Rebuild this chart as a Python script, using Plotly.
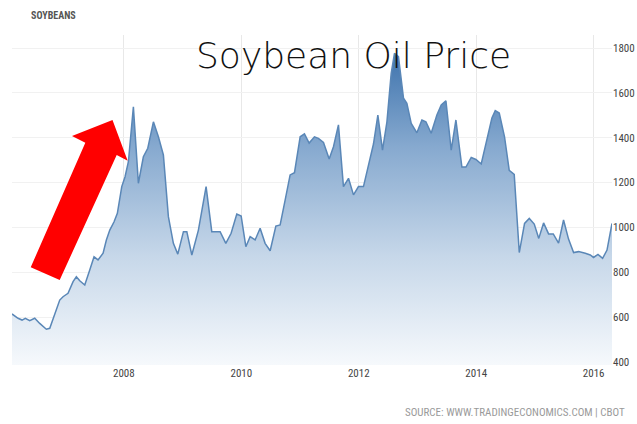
import plotly.graph_objects as go

# ---- data ----
years = [2006.095, 2006.198, 2006.266, 2006.322, 2006.397, 2006.482, 2006.567, 2006.680, 2006.738, 2006.823,
         2006.908, 2006.964, 2007.049, 2007.135, 2007.191, 2007.249, 2007.334, 2007.419, 2007.492, 2007.560,
         2007.646, 2007.702, 2007.760, 2007.833, 2007.889, 2007.964, 2008.020, 2008.077, 2008.162, 2008.247,
         2008.332, 2008.407, 2008.503, 2008.588, 2008.673, 2008.758, 2008.843, 2008.918, 2009.014, 2009.072,
         2009.157, 2009.269, 2009.400, 2009.497, 2009.639, 2009.736, 2009.826, 2009.923, 2009.997, 2010.077,
         2010.150, 2010.235, 2010.320, 2010.405, 2010.491, 2010.588, 2010.661, 2010.746, 2010.831, 2010.905,
         2011.002, 2011.075, 2011.155, 2011.245, 2011.313, 2011.399, 2011.496, 2011.569, 2011.654, 2011.739,
         2011.825, 2011.910, 2011.995, 2012.080, 2012.165, 2012.250, 2012.325, 2012.404, 2012.479, 2012.552,
         2012.608, 2012.676, 2012.762, 2012.819, 2012.893, 2012.990, 2013.075, 2013.143, 2013.233, 2013.330,
         2013.404, 2013.484, 2013.574, 2013.654, 2013.756, 2013.825, 2013.915, 2013.995, 2014.085, 2014.182,
         2014.267, 2014.324, 2014.392, 2014.482, 2014.562, 2014.647, 2014.733, 2014.823, 2014.903, 2014.988,
         2015.065, 2015.147, 2015.232, 2015.312, 2015.402, 2015.487, 2015.572, 2015.658, 2015.743, 2015.857,
         2015.942, 2015.998, 2016.073, 2016.152, 2016.227, 2016.312]
prices = [614, 595, 587, 595, 584, 595, 572, 546, 550, 618,
          676, 691, 706, 758, 780, 762, 743, 810, 869, 855,
          885, 944, 988, 1025, 1063, 1182, 1226, 1293, 1538, 1197,
          1315, 1353, 1471, 1404, 1323, 1048, 929, 881, 981, 981,
          877, 988, 1182, 981, 981, 929, 974, 1060, 1051, 914,
          959, 944, 996, 929, 896, 1006, 1011, 1122, 1234, 1244,
          1404, 1417, 1376, 1404, 1397, 1379, 1305, 1360, 1457, 1182,
          1219, 1145, 1182, 1182, 1278, 1372, 1501, 1345, 1470, 1687,
          1776, 1761, 1576, 1553, 1464, 1422, 1479, 1471, 1420, 1501,
          1546, 1565, 1345, 1479, 1269, 1269, 1312, 1303, 1283, 1399,
          1488, 1521, 1510, 1404, 1254, 1236, 888, 1018, 1040, 1015,
          951, 1020, 971, 971, 930, 1033, 948, 888, 892, 885,
          877, 866, 880, 862, 899, 1018]

x_ticks = [2008, 2010, 2012, 2014, 2016]
x_tick_labels = ["2008", "2010", "2012", "2014", "2016"]
y_ticks = [400, 600, 800, 1000, 1200, 1400, 1600, 1800]
y_tick_labels = ["400", "600", "800", "1000", "1200", "1400", "1600", "1800"]

title_text = "Soybean Oil Price"
corner_label = "SOYBEANS"
source_text = "SOURCE: WWW.TRADINGECONOMICS.COM | CBOT"

# ---- layout geometry (window pixels; body margin removed in post_script) ----
W, H = 637, 424
PLOT_L, PLOT_R, PLOT_T, PLOT_B = 12, 612, 35, 365
ML = PLOT_L
MR = W - PLOT_R
MT = PLOT_T
MB = H - PLOT_B
PW, PH = PLOT_R - PLOT_L, PLOT_B - PLOT_T


def px(x):
    return (x - PLOT_L) / PW


def py(y):
    return (PLOT_B - y) / PH


narrow = "Liberation Sans Narrow, Roboto Condensed, Arial Narrow, sans-serif"

fig = go.Figure()
fig.add_trace(go.Scatter(
    x=years, y=prices, mode="lines",
    line=dict(color="#5a87b7", width=1.5),
    fill="tozeroy",
    fillgradient=dict(type="vertical", start=386, stop=1780,
                      colorscale=[[0, "rgba(246,249,252,1)"], [0.35, "#c6d7e9"],
                                  [0.7, "#86a9cf"], [1, "#3e73ad"]]),
    hoverinfo="skip",
))

# red arrow (decoration) in window pixel space
arrow_px = [(30.7, 267.3), (85.3, 142.7), (72, 136), (112.5, 120),
            (127.7, 160.7), (116.7, 155), (59.7, 280)]
path = "M " + " L ".join(f"{px(x):.4f},{py(y):.4f}" for x, y in arrow_px) + " Z"
fig.add_shape(type="path", path=path, xref="paper", yref="paper",
              fillcolor="#ff0000", line=dict(width=0), layer="above")

fig.add_annotation(text=title_text, xref="paper", yref="paper",
                   x=px(354), y=py(56), xanchor="center", yanchor="middle",
                   showarrow=False,
                   font=dict(family="DejaVu Sans, sans-serif", size=36, color="#111111", weight=300))
fig.add_annotation(text=corner_label, xref="paper", yref="paper",
                   x=px(29), y=py(15), xanchor="left", yanchor="middle",
                   showarrow=False,
                   font=dict(family=narrow, size=10, color="#555555", weight="bold"))
fig.add_annotation(text=source_text, xref="paper", yref="paper",
                   x=px(627), y=py(412), xanchor="right", yanchor="middle",
                   showarrow=False,
                   font=dict(family=narrow, size=11, color="#9a9a9a"))

fig.update_layout(
    width=W, height=H, autosize=False,
    margin=dict(l=ML, r=MR, t=MT, b=MB, pad=0),
    paper_bgcolor="white", plot_bgcolor="white",
    showlegend=False,
    xaxis=dict(range=[min(years), max(years)], tickvals=x_ticks, ticktext=x_tick_labels,
               showgrid=True, gridcolor="#e8e8e8", gridwidth=1, zeroline=False, automargin=False,
               showline=False, ticks="", tickfont=dict(family=narrow, size=11, color="#444444")),
    yaxis=dict(range=[386.5, 1858], side="right", tickvals=y_ticks, ticktext=y_tick_labels,
               showgrid=True, gridcolor="#f1f1f1", gridwidth=1, zeroline=False, automargin=False,
               showline=False, ticks="", tickfont=dict(family=narrow, size=11, color="#444444")),
)

fig.write_html("out.html",
               config={"displayModeBar": False},
               post_script="document.body.style.margin='0';document.body.style.overflow='hidden';")
